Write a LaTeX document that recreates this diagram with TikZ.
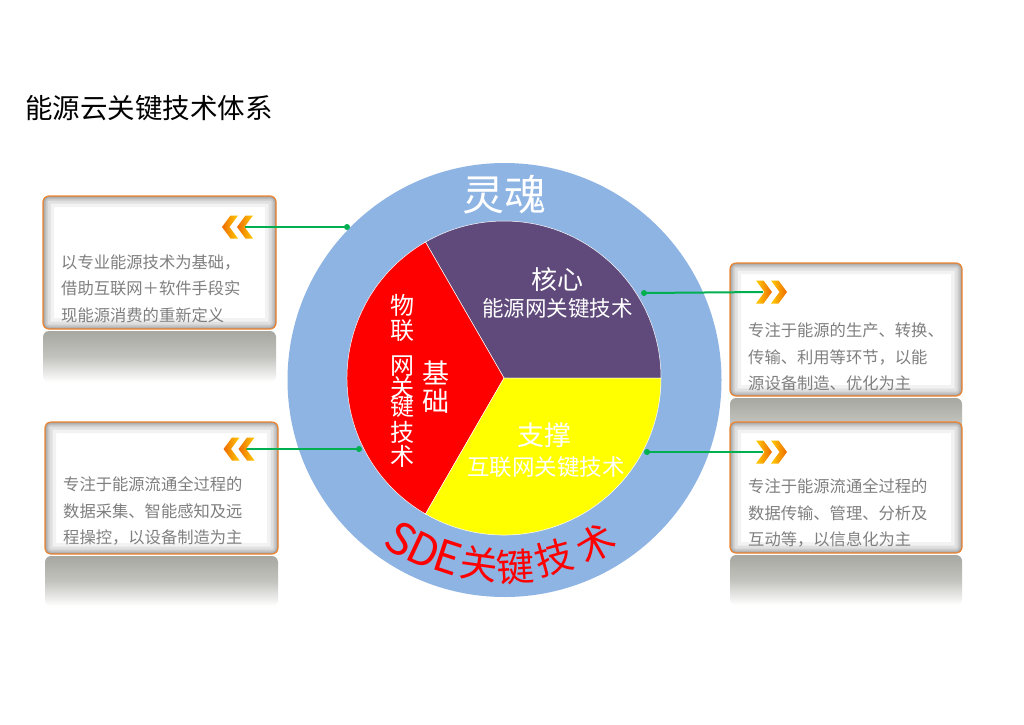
\documentclass[tikz,border=0pt]{standalone}
\usepackage{fontspec}
\setmainfont{Noto Sans CJK SC}
\definecolor{ringblue}{HTML}{8EB4E3}
\definecolor{corepurple}{HTML}{604A7B}
\definecolor{boxorange}{HTML}{EE8530}
\definecolor{linkgreen}{HTML}{00B050}
\definecolor{txtgray}{HTML}{7F7F7F}
\definecolor{reflgray}{HTML}{A8A8A2}
\definecolor{chevorange}{HTML}{EE6A00}
\definecolor{chevyellow}{HTML}{FFCC00}
\definecolor{pureyellow}{HTML}{FFFF00}
\newcommand\myfs[1]{\fontsize{#1}{#1}\selectfont}
\newcommand\chevleft[2]{\shade[chevL] (#1,#2) -- ++(8.5,-11.5) -- ++(7.5,0) -- ++(-8.5,11.5) -- ++(8.5,11.5) -- ++(-7.5,0) -- cycle;}
\newcommand\chevright[2]{\shade[chevR] (#1,#2) -- ++(-8.5,-11.5) -- ++(-7.5,0) -- ++(8.5,11.5) -- ++(-8.5,11.5) -- ++(7.5,0) -- cycle;}
\begin{document}
\begin{tikzpicture}[x=1pt,y=-1pt,
  boxst/.style={draw=boxorange, line width=1.2pt, rounded corners=6pt, fill=white, inner sep=0pt,
    path picture={
      \foreach \lw/\op in {22/0.05,15/0.07,9/0.09,5/0.11,2/0.14}{
        \draw[black, opacity=\op, line width=\lw pt, rounded corners=6pt]
          (path picture bounding box.south west) rectangle (path picture bounding box.north east);}
    }},
  refl/.style={top color=reflgray, bottom color=white, middle color=reflgray!70!white, rounded corners=6pt},
  boxtext/.style={anchor=west, inner sep=0pt, align=left, text=txtgray, font=\fontsize{16.3}{26.5}\selectfont},
  link/.style={linkgreen, line width=2pt},
  dotst/.style={fill=linkgreen, circle, inner sep=0pt, minimum size=6pt},
  chevL/.style={left color=chevorange, right color=chevyellow},
  chevR/.style={left color=chevyellow, right color=chevorange},
  sector/.style={draw=white, line width=0.5pt},
  wtext/.style={text=white, inner sep=0pt},
  redcol/.style={text=white, inner sep=0pt, font=\myfs{24}},
  sde/.style={text=red, inner sep=0pt, font=\myfs{38}},
  sdel/.style={text=red, inner sep=0pt, font=\myfs{44}}
]
\useasboundingbox[fill=white] (0,0) rectangle (1024,724);

% title
\node[anchor=west, inner sep=0pt, font=\myfs{27.5}] (title) at (25,108.5) {能源云关键技术体系};

% reflections
\shade[refl] (43,331) rectangle (276,382);
\shade[refl] (45,556) rectangle (278,606);
\shade[refl] (730,398) rectangle (962,448);
\shade[refl] (730,555) rectangle (962,605);

% boxes
\node[boxst, minimum width=233pt, minimum height=133pt] (box1) at (159.5,262.5) {};
\node[boxst, minimum width=233pt, minimum height=132pt] (box2) at (161.5,488) {};
\node[boxst, minimum width=232pt, minimum height=133pt] (box3) at (846,329.5) {};
\node[boxst, minimum width=232pt, minimum height=131pt] (box4) at (846,487.5) {};

% circle
\coordinate (oc) at (504.5,380);
\coordinate (ic) at (504,378);
\fill[ringblue] (oc) circle[radius=217];
\fill[corepurple, sector] (ic) -- ++(0:157) arc[start angle=0, end angle=-120, radius=157] -- cycle;
\fill[red, sector] (ic) -- ++(-120:157) arc[start angle=-120, end angle=-240, radius=157] -- cycle;
\fill[pureyellow, sector] (ic) -- ++(-240:157) arc[start angle=-240, end angle=-360, radius=157] -- cycle;

% circle texts
\node[wtext, font=\myfs{42}] (soul) at (504,195) {灵魂};
\node[wtext, font=\myfs{26}] (core) at (557,280) {核心};
\node[wtext, font=\myfs{21.5}] (coresub) at (557.5,308) {能源网关键技术};
\node[wtext, font=\myfs{27}] (supp) at (544,435) {支撑};
\node[wtext, font=\myfs{22.5}] (suppsub) at (546,467) {互联网关键技术};
\foreach \c/\yy [count=\i] in {物/305,联/331,网/366,关/387,键/406,技/432,术/456}
  \node[redcol] (r\i) at (402.5,\yy) {\c};
\node[wtext, font=\myfs{27}] (base1) at (435.5,373) {基};
\node[wtext, font=\myfs{27}] (base2) at (435.5,401) {础};

% curved SDE text
\node[sdel, rotate=-32.7] (s1) at (401,539) {S};
\node[sdel, rotate=-25.2] (s2) at (424,550) {D};
\node[sdel, rotate=-18.2] (s3) at (448,557) {E};
\node[sde, rotate=-8] (s4) at (479,564) {关};
\node[sde, rotate=3.7] (s5) at (516,567) {键};
\node[sde, rotate=15.4] (s6) at (554,558) {技};
\node[sde, rotate=30.1] (s7) at (596,543) {术};

% connectors
\node[dotst] (dot1) at (347,227) {};
\node[dotst] (dot2) at (359,449) {};
\node[dotst] (dot3) at (644,293) {};
\node[dotst] (dot4) at (647,452) {};
\coordinate (ch1) at (244.5,227);
\coordinate (ch2) at (246,449);
\coordinate (ch3) at (763,292);
\coordinate (ch4) at (763,452);
\draw[link] (dot1.center) -- (ch1);
\draw[link] (dot2.center) -- (ch2);
\draw[link] (dot3.center) -- (ch3);
\draw[link] (dot4.center) -- (ch4);

% chevrons
\chevleft{222}{227}\chevleft{237}{227}
\chevleft{223.5}{449}\chevleft{238.5}{449}
\chevright{772}{292}\chevright{787}{292}
\chevright{772}{452}\chevright{787}{452}

% box texts
\node[boxtext] (t1) at (61,288.5) {以专业能源技术为基础，\\借助互联网＋软件手段实\\现能源消费的重新定义};
\node[boxtext] (t2) at (63,511) {专注于能源流通全过程的\\数据采集、智能感知及远\\程操控，以设备制造为主};
\node[boxtext] (t3) at (748,357) {专注于能源的生产、转换、\\传输、利用等环节，以能\\源设备制造、优化为主};
\node[boxtext] (t4) at (748,513) {专注于能源流通全过程的\\数据传输、管理、分析及\\互动等，以信息化为主};
\end{tikzpicture}
\end{document}
